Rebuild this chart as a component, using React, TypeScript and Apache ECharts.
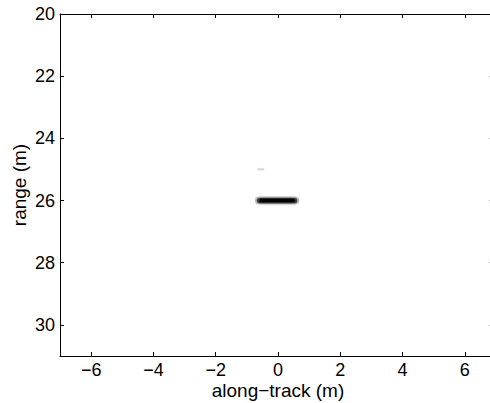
import React, { useEffect, useRef } from "react";
import * as echarts from "echarts";

// Axis ticks
const xTicks = [-6, -4, -2, 0, 2, 4, 6];
const yTicks = [20, 22, 24, 26, 28, 30];
const xRange = [-7, 7];
const yRange = [20, 31];

// Image features (start x, end x, range y, thickness, darkness)
const featX0 = [-0.74, -0.68, -0.6, -0.66];
const featX1 = [0.68, 0.62, 0.54, -0.44];
const featY = [26, 26, 26, 25];
const featH = [0.24, 0.17, 0.1, 0.07];
const featDark = [0.22, 0.55, 1.0, 0.15];

const FONT = "'Liberation Sans', Arial, Helvetica, sans-serif";

export default function App() {
  const ref = useRef<HTMLDivElement>(null);
  useEffect(() => {
    if (!ref.current) return;
    const chart = echarts.init(ref.current, undefined, { renderer: "svg" });
    const data = featX0.map((x0, i) => [x0, featX1[i], featY[i], featH[i], featDark[i]]);
    const axisLine = { show: true, onZero: false, lineStyle: { color: "#000", width: 1 } };
    chart.setOption({
      animation: false,
      backgroundColor: "#fff",
      grid: { left: 60, top: 14, right: -6, bottom: 47, containLabel: false, outerBoundsMode: "none" },
      xAxis: [
        {
          type: "value",
          position: "bottom",
          min: xRange[0],
          max: xRange[1],
          name: "along\u2212track (m)",
          nameLocation: "middle",
          nameGap: 25,
          nameMoveOverlap: false,
          nameTextStyle: { fontFamily: FONT, fontSize: 19, lineHeight: 19, color: "#000" },
          axisLine,
          axisTick: { show: true, inside: true, length: 4, customValues: xTicks, lineStyle: { color: "#000" } },
          axisLabel: {
            show: true,
            customValues: xTicks,
            fontFamily: FONT,
            fontSize: 18,
            lineHeight: 18,
            color: "#000",
            margin: 5,
            formatter: (v: number) => (v < 0 ? "\u2212" + Math.abs(v) : String(v)),
          },
          splitLine: { show: false },
        },
        {
          type: "value",
          position: "top",
          min: xRange[0],
          max: xRange[1],
          axisLine,
          axisTick: { show: true, inside: true, length: 4, customValues: xTicks, lineStyle: { color: "#000" } },
          axisLabel: { show: false },
          splitLine: { show: false },
        },
      ],
      yAxis: [
        {
          type: "value",
          position: "left",
          inverse: true,
          min: yRange[0],
          max: yRange[1],
          name: "range (m)",
          nameLocation: "middle",
          nameGap: 31,
          nameMoveOverlap: false,
          nameRotate: 90,
          nameTextStyle: { fontFamily: FONT, fontSize: 19, lineHeight: 19, color: "#000" },
          axisLine,
          axisTick: { show: true, inside: true, length: 4, customValues: yTicks, lineStyle: { color: "#000" } },
          axisLabel: { show: true, customValues: yTicks, fontFamily: FONT, fontSize: 18, lineHeight: 18, color: "#000", margin: 5 },
          splitLine: { show: false },
        },
        {
          type: "value",
          position: "right",
          inverse: true,
          min: yRange[0],
          max: yRange[1],
          axisLine: { show: false, onZero: false },
          axisTick: { show: true, inside: true, length: 7, customValues: yTicks.slice(1), lineStyle: { color: "#aaa" } },
          axisLabel: { show: false },
          splitLine: { show: false },
        },
      ],
      series: [
        {
          type: "custom",
          xAxisIndex: 0,
          yAxisIndex: 0,
          encode: { x: [0, 1], y: 2 },
          data,
          renderItem: (params: any, api: any) => {
            const x0 = api.value(0);
            const x1 = api.value(1);
            const y = api.value(2);
            const h = api.value(3);
            const d = api.value(4);
            const p0 = api.coord([x0, y - h / 2]);
            const p1 = api.coord([x1, y + h / 2]);
            const top = Math.min(p0[1], p1[1]);
            const height = Math.abs(p1[1] - p0[1]);
            const col = `rgba(0,0,0,${d})`;
            return {
              type: "rect",
              shape: { x: p0[0], y: top, width: p1[0] - p0[0], height, r: height / 2 },
              style: { fill: col, shadowBlur: 3, shadowColor: col },
            };
          },
        },
      ],
    });
    return () => chart.dispose();
  }, []);
  return (
    <div
      ref={ref}
      style={{ position: "fixed", left: 0, top: 0, width: 490, height: 403 }}
    />
  );
}
